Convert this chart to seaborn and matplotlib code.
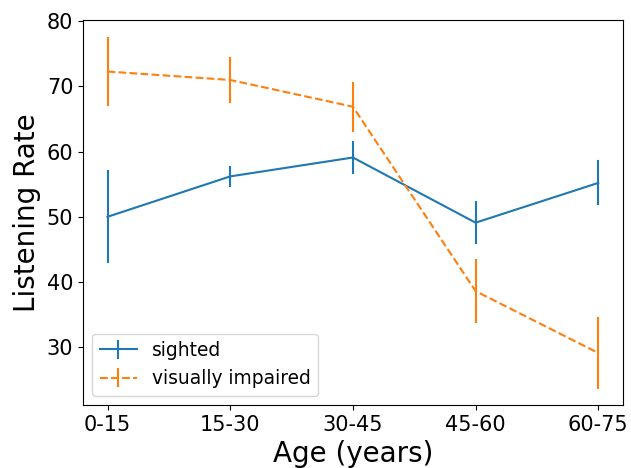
import seaborn as sns
import matplotlib.pyplot as plt
import pandas as pd
import numpy as np

# Datos
ages = ['0-15', '15-30', '30-45', '45-60', '60-75']
sighted_mean = [50.0, 56.2, 59.1, 49.1, 55.2]
sighted_err = [7.0, 1.5, 2.4, 3.1, 3.3]
impaired_mean = [72.3, 71.0, 66.9, 38.6, 29.1]
impaired_err = [5.2, 3.4, 3.7, 4.7, 5.3]

# Formato largo: dos puntos por grupo (media ± error)
rows = []
for name, means, errs in [('sighted', sighted_mean, sighted_err),
                          ('visually impaired', impaired_mean, impaired_err)]:
    for a, m, e in zip(ages, means, errs):
        rows.append({'age': a, 'rate': m - e, 'group': name})
        rows.append({'age': a, 'rate': m + e, 'group': name})
df = pd.DataFrame(rows)

fig, ax = plt.subplots(figsize=(6.31, 4.68), dpi=100)
palette = sns.color_palette('tab10', 2)

sns.lineplot(data=df, x='age', y='rate', hue='group', style='group',
             palette=palette, dashes=['', (3.7, 1.6)], sort=False,
             estimator='mean', errorbar=lambda v: (v.min(), v.max()),
             err_style='bars', linewidth=1.5, ax=ax, legend=False)

# Leyenda con barra de error
lines = ax.get_lines()
conts = ax.containers
handles = []
labels = ['sighted', 'visually impaired']
line_objs = [l for l in lines if len(l.get_xdata()) == len(ages) and l.get_linestyle() != 'None']
for i in range(2):
    handles.append((line_objs[i], conts[i]))
ax.legend(handles, labels, loc='lower left', fontsize=13.4)

ax.set_xlabel('Age (years)', fontsize=20)
ax.set_ylabel('Listening Rate', fontsize=20)
ax.tick_params(labelsize=15)
ax.set_yticks([30, 40, 50, 60, 70, 80])

fig.subplots_adjust(left=0.1315, right=0.987, top=0.957, bottom=0.1346)
fig.savefig('out.png')
